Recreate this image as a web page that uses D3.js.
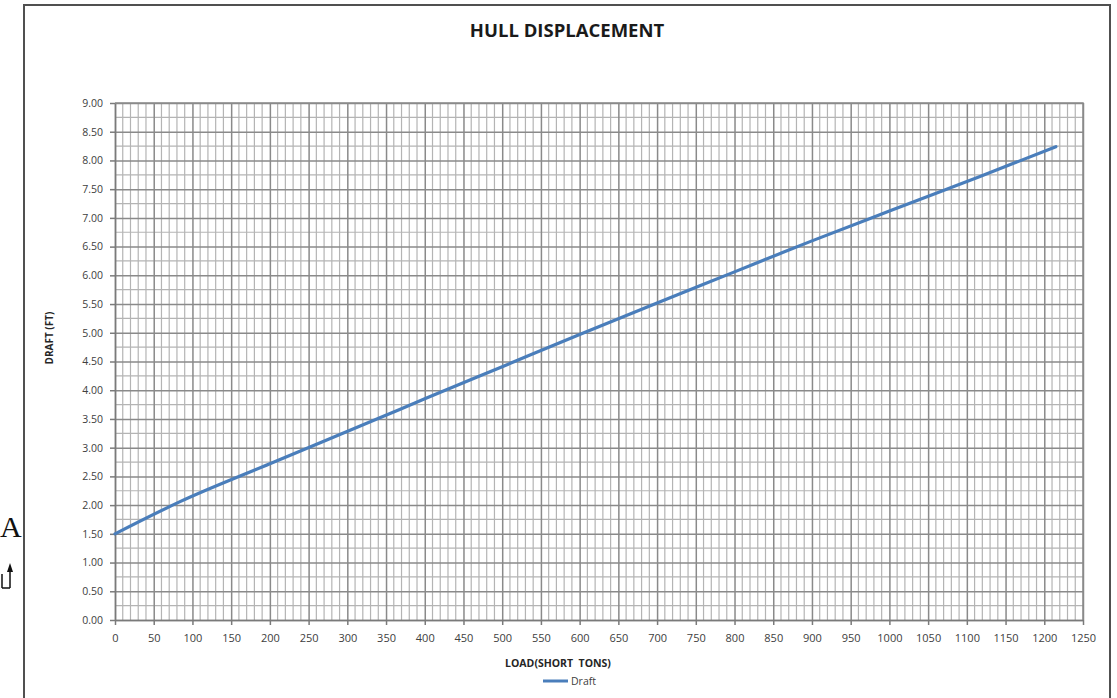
<!DOCTYPE html>
<html>
<head>
<meta charset="utf-8">
<script src="https://cdn.jsdelivr.net/npm/d3@7"></script>
<style>
  html, body { margin: 0; padding: 0; background: #fff; }
  svg { display: block; }
</style>
</head>
<body>
<div id="chart"></div>
<script>
// Hull displacement curve: draft vs load
const loads  = [0, 84, 200, 342, 400, 500, 600, 700, 800, 859, 900, 1000, 1117, 1215];
const drafts = [1.50, 2.06, 2.72, 3.52, 3.85, 4.41, 4.97, 5.52, 6.06, 6.38, 6.60, 7.12, 7.72, 8.24];

const xTicks = [0, 50, 100, 150, 200, 250, 300, 350, 400, 450, 500, 550, 600, 650,
                700, 750, 800, 850, 900, 950, 1000, 1050, 1100, 1150, 1200, 1250];
const yTicks = [0, 0.5, 1, 1.5, 2, 2.5, 3, 3.5, 4, 4.5, 5, 5.5, 6, 6.5, 7, 7.5, 8, 8.5, 9];

const title = 'HULL DISPLACEMENT';
const xLabel = 'LOAD(SHORT  TONS)';
const yLabel = 'DRAFT (FT)';
const seriesName = 'Draft';

const W = 1117, H = 698;
const M = { left: 115, right: 1083, top: 103, bottom: 620 };
const FONT = '"Open Sans", "Noto Sans", sans-serif';
const LINE_COLOR = '#4a7ebb';

const svg = d3.select('#chart').append('svg')
  .attr('width', W).attr('height', H);

// outer chart frame
svg.append('rect')
  .attr('x', 24).attr('y', 5)
  .attr('width', 1086).attr('height', 720)
  .attr('fill', '#fff')
  .attr('stroke', '#505050')
  .attr('stroke-width', 2);

const x = d3.scaleLinear().domain([0, 1250]).range([M.left, M.right]);
const y = d3.scaleLinear().domain([0, 9]).range([M.bottom, M.top]);

// minor grid
const grid = svg.append('g');
grid.selectAll('.vminor').data(d3.range(0, 1251, 10).filter(v => v % 50 !== 0))
  .join('line')
  .attr('x1', d => x(d)).attr('x2', d => x(d))
  .attr('y1', M.top).attr('y2', M.bottom)
  .attr('stroke', '#b4b4b4').attr('stroke-width', 1.2);
grid.selectAll('.hminor').data(d3.range(0.25, 9, 0.5))
  .join('line')
  .attr('x1', M.left).attr('x2', M.right)
  .attr('y1', d => y(d)).attr('y2', d => y(d))
  .attr('stroke', '#b4b4b4').attr('stroke-width', 1.2);

// major grid
svg.append('g')
  .attr('transform', `translate(0,${M.bottom})`)
  .call(d3.axisBottom(x).tickValues(xTicks).tickSize(-(M.bottom - M.top)).tickFormat(''))
  .call(g => g.select('.domain').remove())
  .call(g => g.selectAll('line').attr('stroke', '#8a8a8a').attr('stroke-width', 1.5));
svg.append('g')
  .attr('transform', `translate(${M.left},0)`)
  .call(d3.axisLeft(y).tickValues(yTicks).tickSize(-(M.right - M.left)).tickFormat(''))
  .call(g => g.select('.domain').remove())
  .call(g => g.selectAll('line').attr('stroke', '#8a8a8a').attr('stroke-width', 1.5));

// axes
svg.append('g')
  .attr('transform', `translate(0,${M.bottom})`)
  .call(d3.axisBottom(x).tickValues(xTicks).tickSize(5).tickSizeOuter(0).tickPadding(9)
    .tickFormat(d3.format('d')))
  .call(g => g.select('.domain').attr('stroke', '#7a7a7a').attr('stroke-width', 1.5))
  .call(g => g.selectAll('line').attr('stroke', '#7a7a7a').attr('stroke-width', 1.5))
  .call(g => g.selectAll('text').attr('font-size', 11).attr('font-family', FONT).attr('fill', '#404040'));

svg.append('g')
  .attr('transform', `translate(${M.left},0)`)
  .call(d3.axisLeft(y).tickValues(yTicks).tickSize(5).tickSizeOuter(0).tickPadding(7)
    .tickFormat(d3.format('.2f')))
  .call(g => g.select('.domain').attr('stroke', '#7a7a7a').attr('stroke-width', 1.5))
  .call(g => g.selectAll('line').attr('stroke', '#7a7a7a').attr('stroke-width', 1.5))
  .call(g => g.selectAll('text').attr('font-size', 10.5).attr('font-family', FONT).attr('fill', '#404040'));

// right and top plot border
svg.append('path')
  .attr('d', `M${M.left},${M.top}H${M.right}V${M.bottom}`)
  .attr('fill', 'none').attr('stroke', '#8a8a8a').attr('stroke-width', 1.5);

// series
const pts = loads.map((l, i) => ({ x: l, y: drafts[i] }));
svg.append('path')
  .datum(pts)
  .attr('fill', 'none')
  .attr('stroke', LINE_COLOR)
  .attr('stroke-width', 3.2)
  .attr('stroke-linecap', 'round')
  .attr('d', d3.line().x(d => x(d.x)).y(d => y(d.y)).curve(d3.curveMonotoneX));

// texts
svg.append('text')
  .attr('x', 567).attr('y', 37)
  .attr('text-anchor', 'middle')
  .attr('font-family', FONT).attr('font-weight', 'bold').attr('font-size', 18.5)
  .attr('fill', '#1a1a1a')
  .text(title);

svg.append('text')
  .attr('x', 558).attr('y', 667)
  .attr('text-anchor', 'middle')
  .attr('font-family', FONT).attr('font-weight', 'bold').attr('font-size', 10.5)
  .attr('fill', '#262626')
  .attr('xml:space', 'preserve')
  .style('white-space', 'pre')
  .text(xLabel);

svg.append('text')
  .attr('transform', 'translate(53,338) rotate(-90)')
  .attr('text-anchor', 'middle')
  .attr('font-family', FONT).attr('font-weight', 'bold').attr('font-size', 10)
  .attr('fill', '#262626')
  .text(yLabel);

// legend
const lg = svg.append('g').attr('transform', 'translate(543,681)');
lg.append('line')
  .attr('x1', 0).attr('x2', 25).attr('y1', 0).attr('y2', 0)
  .attr('stroke', LINE_COLOR).attr('stroke-width', 3);
lg.append('text')
  .attr('x', 28).attr('y', 4)
  .attr('font-family', FONT).attr('font-size', 10.5).attr('fill', '#404040')
  .text(seriesName);

// stray page marker to the left of the frame
svg.append('text')
  .attr('x', 0).attr('y', 537)
  .attr('font-family', '"Liberation Serif", serif').attr('font-size', 30)
  .attr('fill', '#111')
  .text('A');
svg.append('path')
  .attr('d', 'M10,588V570 M2,588H10 M2,574V588')
  .attr('fill', 'none').attr('stroke', '#111').attr('stroke-width', 1.5);
svg.append('path')
  .attr('d', 'M7,572L10,563L13,572Z')
  .attr('fill', '#111');
</script>
</body>
</html>
